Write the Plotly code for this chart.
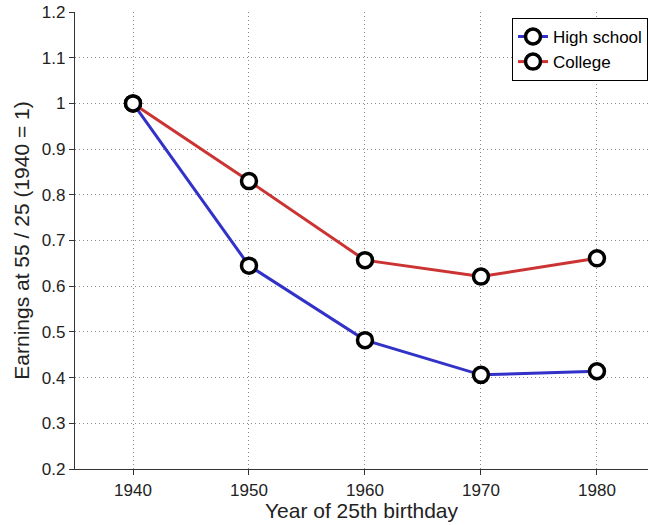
import plotly.graph_objects as go

years = [1940, 1950, 1960, 1970, 1980]
high_school = [1.0, 0.645, 0.482, 0.406, 0.414]
college = [1.0, 0.830, 0.657, 0.621, 0.661]
series_names = ["High school", "College"]
y_ticks = [0.2, 0.3, 0.4, 0.5, 0.6, 0.7, 0.8, 0.9, 1.0, 1.1, 1.2]
y_tick_labels = ["0.2", "0.3", "0.4", "0.5", "0.6", "0.7", "0.8", "0.9", "1", "1.1", "1.2"]

FONT = "Liberation Sans, Arial, sans-serif"
fig = go.Figure()
for name, vals, col in [(series_names[0], high_school, "#3232c8"),
                        (series_names[1], college, "#cc3333")]:
    fig.add_trace(go.Scatter(
        x=years, y=vals, name=name, mode="lines+markers",
        line=dict(color=col, width=3),
        marker=dict(symbol="circle", size=15, color="white",
                    line=dict(color="black", width=3.5)),
    ))

grid = dict(showgrid=True, gridcolor="#8a8a8a", griddash="1px,3px", gridwidth=1)
fig.update_layout(
    width=648, height=525,
    margin=dict(l=75, r=0, t=12, b=56),
    plot_bgcolor="white", paper_bgcolor="white",
    font=dict(family=FONT, size=17, color="#222"),
    showlegend=True,
    legend=dict(x=1.0, y=0.987, xanchor="right", yanchor="top",
                bgcolor="white", bordercolor="black", borderwidth=1,
                font=dict(size=17, color="black"),
                tracegroupgap=0, itemwidth=30),
)
fig.update_xaxes(
    range=[1935, 1984.4], tickvals=years, ticktext=[str(y) for y in years],
    **grid,
    zeroline=False, showline=True, linecolor="#333", linewidth=1.2,
    ticks="outside", ticklen=5, tickcolor="#333",
    tickfont=dict(family=FONT, size=17, color="#222"),
    title=dict(text="Year of 25th birthday", font=dict(size=21, color="#222"), standoff=2),
)
fig.update_yaxes(
    range=[0.2, 1.2], tickvals=y_ticks, ticktext=y_tick_labels,
    **grid,
    zeroline=False, showline=True, linecolor="#333", linewidth=1.2,
    ticks="outside", ticklen=5, tickcolor="#333",
    tickfont=dict(family=FONT, size=17, color="#222"),
    title=dict(text="Earnings at 55 / 25 (1940 = 1)", font=dict(size=21, color="#222"), standoff=6),
)
fig.write_html("out.html")
